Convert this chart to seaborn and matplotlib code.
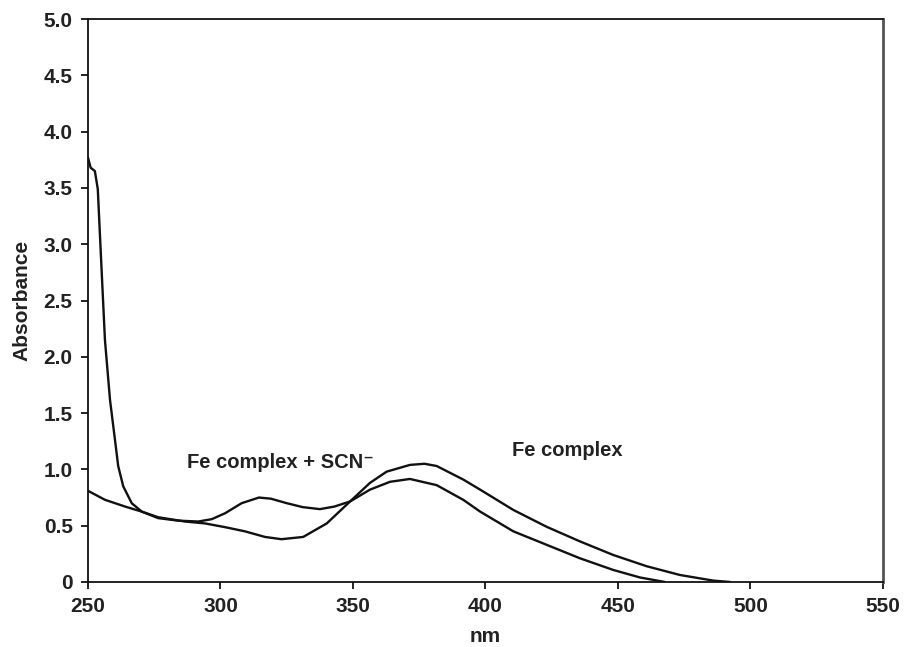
import matplotlib
matplotlib.use("Agg")
import matplotlib.pyplot as plt
import seaborn as sns
import pandas as pd
from matplotlib.ticker import FixedLocator, FixedFormatter

# Data
scn_nm = [250, 251, 252.6, 253.7, 254.9, 256.4, 258.3, 260.2, 261.4, 263.3, 266.5,
          270.3, 276.5, 284, 291.6, 296.7, 301.7, 308, 314.5, 319, 325, 331,
          337.5, 343, 348.9, 356.4, 362.7, 371.5, 377, 381.6, 391.6, 398,
          410.5, 423.1, 435.7, 448.2, 460.8, 473.4, 486, 492.3]
scn_abs = [3.77, 3.68, 3.65, 3.49, 2.89, 2.15, 1.62, 1.26, 1.03, 0.85, 0.70,
           0.625, 0.567, 0.545, 0.537, 0.558, 0.61, 0.70, 0.75, 0.74, 0.70, 0.665,
           0.647, 0.67, 0.715, 0.88, 0.98, 1.04, 1.05, 1.03, 0.91, 0.82,
           0.64, 0.49, 0.36, 0.24, 0.14, 0.062, 0.012, 0.0]

fe_nm = [250, 256.4, 264, 270.3, 276.5, 286.6, 294.2, 301.7, 309.2, 316.8, 323,
         331.2, 340.1, 348.9, 356.4, 364, 371.5, 381.6, 391.6, 398, 410.5,
         423.1, 435.7, 448.2, 458.3, 467.7]
fe_abs = [0.81, 0.73, 0.67, 0.625, 0.575, 0.537, 0.52, 0.487, 0.45, 0.40, 0.38,
          0.40, 0.52, 0.715, 0.82, 0.89, 0.915, 0.86, 0.73, 0.625, 0.45,
          0.33, 0.21, 0.107, 0.04, 0.0]

x_ticks = [250, 300, 350, 400, 450, 500, 550]
y_ticks = [0, 0.5, 1.0, 1.5, 2.0, 2.5, 3.0, 3.5, 4.0, 4.5, 5.0]
y_tick_labels = ["0", "0.5", "1.0", "1.5", "2.0", "2.5", "3.0", "3.5", "4.0", "4.5", "5.0"]

sns.set_style("white")
plt.rcParams['font.family'] = ['Liberation Sans', 'DejaVu Sans']

fig = plt.figure(figsize=(9.07, 6.47), dpi=100)
ax = fig.add_axes([0.097, 0.1005, 0.8765, 0.870])

df_scn = pd.DataFrame({"nm": scn_nm, "Absorbance": scn_abs})
df_fe = pd.DataFrame({"nm": fe_nm, "Absorbance": fe_abs})
sns.lineplot(data=df_scn, x="nm", y="Absorbance", ax=ax, color="#111111",
             linewidth=1.7, sort=False, estimator=None)
sns.lineplot(data=df_fe, x="nm", y="Absorbance", ax=ax, color="#111111",
             linewidth=1.7, sort=False, estimator=None)

ax.set_xlim(250, 550)
ax.set_ylim(0, 5.0)
ax.xaxis.set_major_locator(FixedLocator(x_ticks))
ax.yaxis.set_major_locator(FixedLocator(y_ticks))
ax.yaxis.set_major_formatter(FixedFormatter(y_tick_labels))

ax.tick_params(axis="both", direction="out", length=5, width=1.3, color="#111111",
               labelsize=15, pad=6, labelcolor="#222222")
ax.tick_params(bottom=True, left=True)
for lbl in ax.get_xticklabels() + ax.get_yticklabels():
    lbl.set_fontweight("bold")

for side in ["left", "bottom", "top"]:
    ax.spines[side].set_color("#111111")
    ax.spines[side].set_linewidth(1.3)
ax.spines["right"].set_color("#555555")
ax.spines["right"].set_linewidth(2.0)

ax.set_xlabel("nm", fontsize=15, fontweight="bold", color="#222222", labelpad=8)
ax.set_ylabel("Absorbance", fontsize=15, fontweight="bold", color="#222222", labelpad=9)

ax.text(287.2, 1.06, "Fe complex + SCN\u207b", fontsize=14.5, fontweight="bold",
        color="#222222", ha="left", va="center")
ax.text(409.9, 1.17, "Fe complex", fontsize=14.5, fontweight="bold",
        color="#222222", ha="left", va="center")

fig.savefig("out.png", dpi=100)
